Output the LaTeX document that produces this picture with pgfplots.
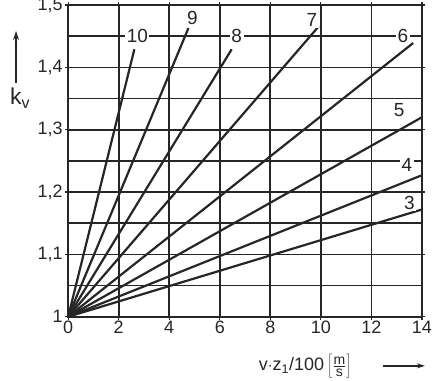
\documentclass[border=0pt]{standalone}
\usepackage{fontspec}
\setmainfont{Liberation Sans}
\usepackage{pgfplots}
\pgfplotsset{compat=1.18}
\usetikzlibrary{arrows.meta}
\definecolor{ink}{HTML}{262626}
\begin{document}
\begin{tikzpicture}
\begin{axis}[
  name=ax,
  scale only axis,
  width=353bp, height=311bp,
  xmin=0, xmax=14, ymin=1, ymax=1.5,
  clip=false,
  axis line style={line width=1.8bp, ink},
  xtick={0,2,...,14},
  ytick={1,1.1,1.2,1.3,1.4,1.5},
  yticklabels={1,{1,1},{1,2},{1,3},{1,4},{1,5}},
  extra y ticks={1.05,1.15,1.25,1.35,1.45},
  extra y tick labels={},
  extra y tick style={major tick length=0bp},
  grid=major,
  major grid style={line width=1.7bp, ink},
  tick align=outside,
  major tick length=3bp,
  tick style={line width=1.2bp, ink},
  /pgf/number format/assume math mode=true,
  tick label style={font=\fontsize{18}{20}\selectfont, text=ink},
  xticklabel style={yshift=2bp},
  yticklabel style={xshift=1bp},
]
% lines through (0,1); values read at their ends
\addplot[line width=2.2bp, ink] coordinates {(0,1) (14,1.172)};   % 3
\addplot[line width=2.2bp, ink] coordinates {(0,1) (14,1.227)};   % 4
\addplot[line width=2.2bp, ink] coordinates {(0,1) (14,1.320)};   % 5
\addplot[line width=2.2bp, ink] coordinates {(0,1) (13.65,1.439)}; % 6
\addplot[line width=2.2bp, ink] coordinates {(0,1) (9.92,1.466)};  % 7
\addplot[line width=2.2bp, ink] coordinates {(0,1) (6.47,1.429)};  % 8
\addplot[line width=2.2bp, ink] coordinates {(0,1) (4.76,1.463)};  % 9
\addplot[line width=2.2bp, ink] coordinates {(0,1) (2.62,1.429)};  % 10
% curve labels
\begin{scope}[every node/.style={fill=white, inner sep=1.5bp, text=ink, font=\fontsize{19}{20}\selectfont}]
\node at (axis cs:2.74,1.450) {10};
\node at (axis cs:4.92,1.479) {9};
\node at (axis cs:6.67,1.450) {8};
\node at (axis cs:9.64,1.476) {7};
\node at (axis cs:13.25,1.450) {6};
\node at (axis cs:13.1,1.331) {5};
\node at (axis cs:13.4,1.243) {4};
\node at (axis cs:13.5,1.183) {3};
\end{scope}
\end{axis}
% axis labels (outside the axis, in bp from the axis corner)
\draw[line width=1.8bp, ink, -{Stealth[length=9bp,width=6bp]}] ([shift={(-52bp,233bp)}]ax.south west) -- ([shift={(-52bp,285bp)}]ax.south west);
\node[text=ink, font=\fontsize{23}{24}\selectfont] at ([shift={(-48bp,218bp)}]ax.south west) {k\textsubscript{v}};
\node[text=ink, anchor=base west, font=\fontsize{18}{20}\selectfont, inner sep=0pt] (xl) at ([shift={(190bp,-54bp)}]ax.south west)
  {v$\cdot$z\textsubscript{1}/100\,$\left[\vphantom{\Big|}\frac{\mbox{\fontsize{14}{14}\selectfont m}}{\mbox{\fontsize{14}{14}\selectfont s}}\right]$};
\draw[line width=1.4bp, ink, -{Stealth[length=8bp,width=5bp]}] ([shift={(314bp,-49bp)}]ax.south west) -- ([shift={(356bp,-49bp)}]ax.south west);
\pgfresetboundingbox
\path[use as bounding box] ([shift={(-68bp,-64bp)}]ax.south west) rectangle ([shift={(13bp,5bp)}]ax.north east);
\end{tikzpicture}
\end{document}
